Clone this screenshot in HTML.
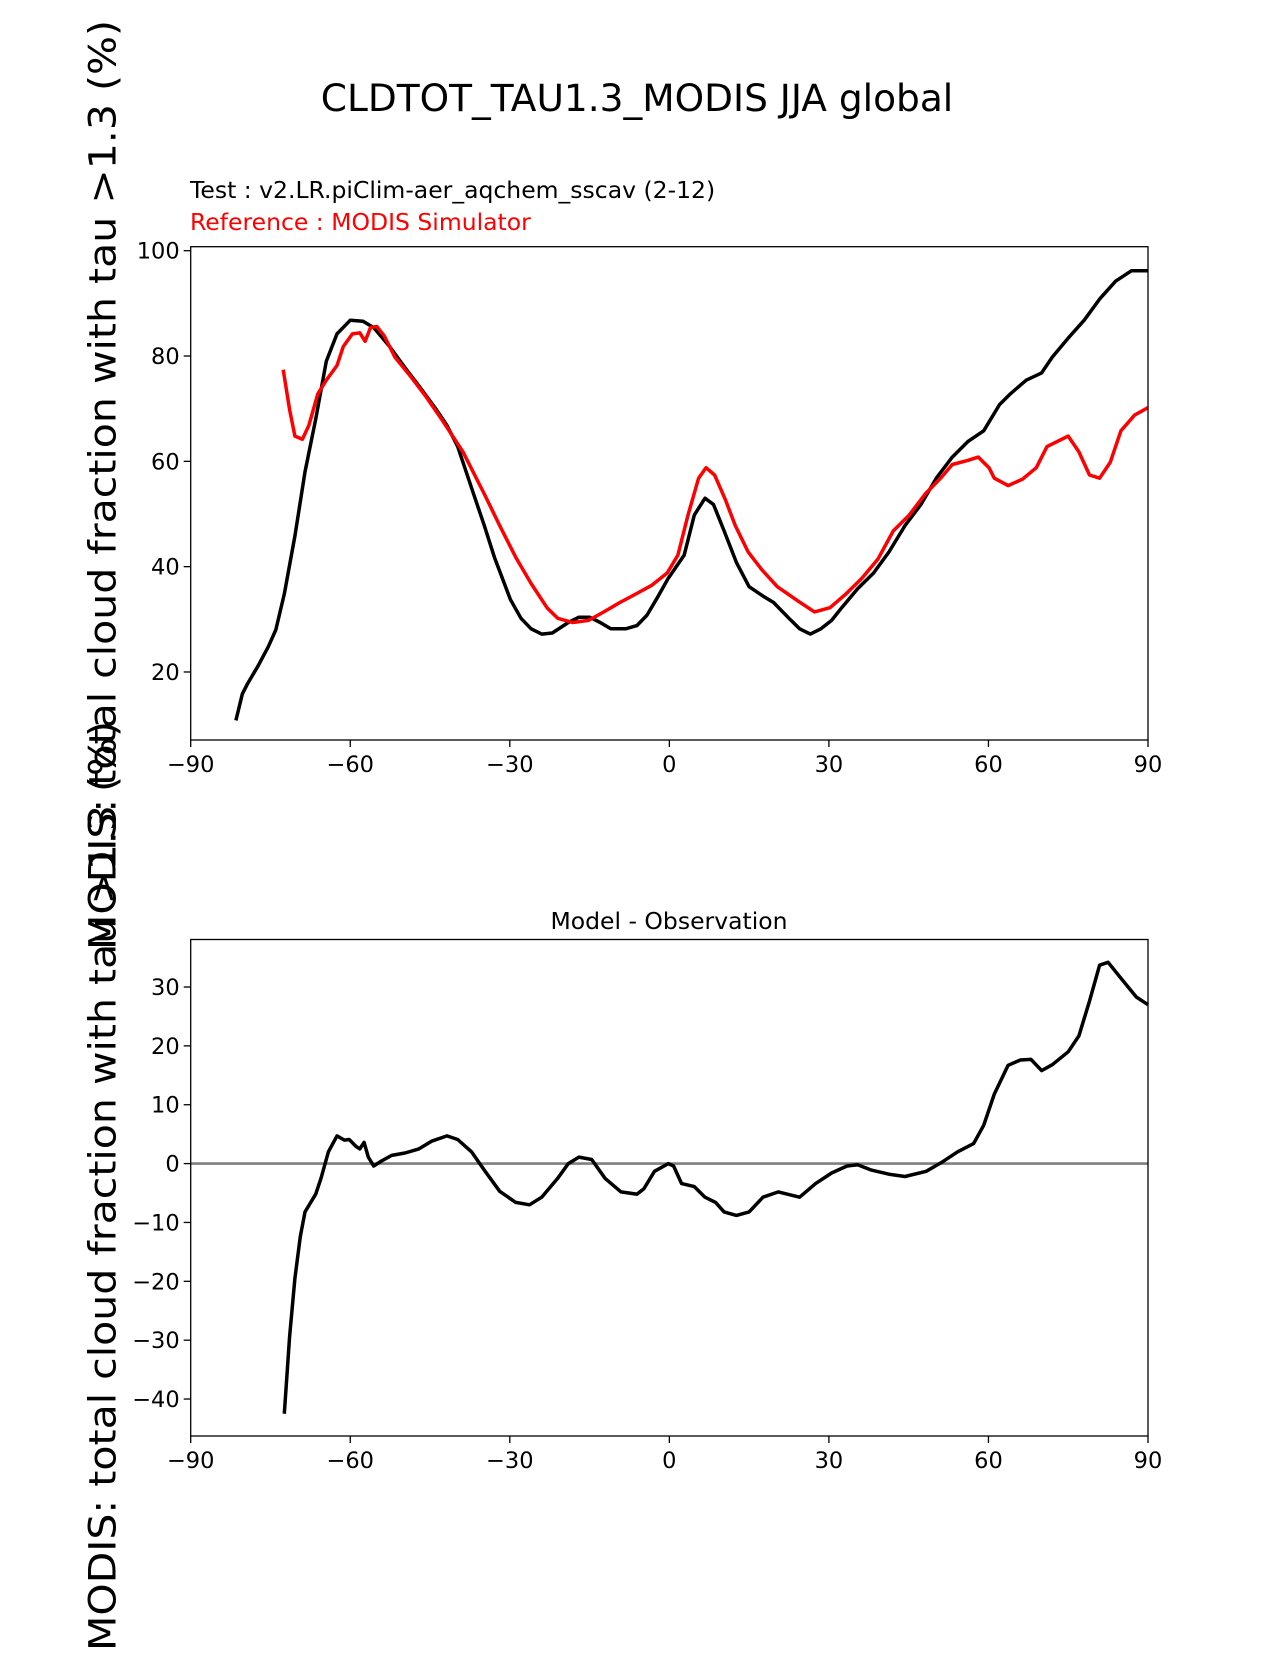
<!DOCTYPE html>
<html><head><meta charset="utf-8"><style>
html,body{margin:0;padding:0;background:#fff}
svg text{font-family:"DejaVu Sans","Liberation Sans",sans-serif}
</style></head><body>
<svg id="fig" width="1275" height="1650" xmlns="http://www.w3.org/2000/svg">
<rect width="1275" height="1650" fill="#fff"/>
<text x="637" y="111" font-size="37.5" text-anchor="middle">CLDTOT_TAU1.3_MODIS JJA global</text>
<text x="190" y="198" font-size="23.5">Test : v2.LR.piClim-aer_aqchem_sscav (2-12)</text>
<text x="190" y="230" font-size="23.5" fill="#ff0000">Reference : MODIS Simulator</text>
<text x="669" y="929" font-size="23.5" text-anchor="middle">Model - Observation</text>
<text transform="translate(103,485) rotate(-90)" font-size="37" text-anchor="middle" dominant-baseline="central" textLength="930" lengthAdjust="spacingAndGlyphs">MODIS: total cloud fraction with tau &gt;1.3 (%)</text>
<text transform="translate(103,1186) rotate(-90)" font-size="37" text-anchor="middle" dominant-baseline="central" textLength="930" lengthAdjust="spacingAndGlyphs">MODIS: total cloud fraction with tau &gt;1.3 (%)</text>
<g id="top"></g>
<g id="bot"></g>
</svg>
<script>
const xTicks=[-90,-60,-30,0,30,60,90];
const topYTicks=[20,40,60,80,100];
const botYTicks=[-40,-30,-20,-10,0,10,20,30];
const testLat=[-81.5,-80.3,-79.3,-77.3,-75.4,-74,-72.4,-70.4,-68.5,-66.5,-64.5,-62.5,-60,-57.6,-55.6,-52.6,-49.7,-46.7,-43.8,-41.8,-39.8,-36.8,-34.8,-32.9,-29.9,-27.9,-26,-24,-22,-19,-17,-15,-13,-11,-8.2,-6.1,-4.2,-2.2,-0.2,2.8,4.7,6.7,8.3,10.3,12.6,15,17.6,19.6,22.5,24.5,26.5,28.5,30.5,32.4,35.4,38.4,41.3,44.3,47.3,50.2,53.2,56.2,59.1,62.1,64.1,67.1,70,72,75,78,80.9,83.9,86.9,90];
const testVal=[10.8,15.8,17.8,21.2,24.8,28,34.8,45.8,58,68,79,84.2,86.8,86.6,85.4,81.8,77.8,73.8,69.8,66.8,62.8,53.8,47.8,41.8,33.8,30.2,28.2,27.2,27.4,29.4,30.4,30.4,29.4,28.2,28.2,28.8,30.8,34.2,37.8,42.2,49.8,53,51.8,46.8,40.8,36.2,34.4,33.2,30.2,28.2,27.2,28.2,29.8,32.2,35.8,38.8,42.8,47.8,51.8,56.8,60.8,63.8,65.8,70.8,72.8,75.4,76.8,79.8,83.4,86.8,90.8,94.2,96.2,96.2];
const refLat=[-72.6,-71.4,-70.4,-69,-67.8,-66.1,-64.5,-62.5,-61.3,-59.6,-58.2,-57.2,-56.2,-55,-53.6,-51.6,-48.7,-45.7,-42.7,-38.8,-34.8,-31.9,-28.9,-26,-23,-21,-18.2,-15.2,-12.3,-9.3,-6.3,-3.4,-0.4,1.6,3.5,5.5,6.9,8.5,10.5,12.4,14.8,17.4,20.3,24.3,27.3,30.2,33.2,36.2,39.2,42.1,45.1,48.1,51,53.2,56.2,58.1,60.1,61.1,63.7,66.4,69,71,73,75,77,79,80.9,82.9,84.9,87.5,90];
const refVal=[77.4,69.8,64.8,64.2,66.8,72.8,75.4,78.2,81.8,84.2,84.4,82.8,85.4,85.6,83.8,79.8,76.2,72.2,67.8,61.8,53.8,47.8,41.8,36.8,32.2,30.2,29.4,29.8,31.4,33.2,34.8,36.4,38.8,42.2,49.8,56.8,58.8,57.4,52.8,47.8,42.8,39.4,36.2,33.4,31.4,32.2,34.8,37.8,41.4,46.8,49.8,53.8,56.8,59.4,60.2,60.8,58.8,56.8,55.4,56.6,58.8,62.8,63.8,64.8,61.8,57.4,56.8,59.8,65.8,68.8,70.2];
const diffLat=[-72.4,-71.4,-70.4,-69.4,-68.5,-66.5,-65.5,-64.1,-62.5,-61.1,-60.2,-58.9,-58.2,-57.4,-56.6,-55.6,-54.2,-52.2,-49.7,-47.1,-44.7,-41.8,-39.8,-37.2,-34.8,-31.9,-28.9,-26.3,-24,-21,-19,-17,-14.6,-12.1,-9.1,-6.1,-4.8,-2.8,-0.2,0.8,2.3,4.7,6.7,8.7,10.3,12.6,15,17.6,20.5,24.5,27.5,30.5,33.4,35.4,38,41.3,44.3,48.3,51.2,54.2,57.2,59.1,61.1,63.7,66,68,70,72,75,77,79,80.9,82.5,84.9,87.8,90];
const diffVal=[-42.5,-29.4,-19.5,-12.4,-8.2,-5.2,-2.5,2,4.7,4,4.1,2.9,2.5,3.6,1.1,-0.4,0.4,1.4,1.8,2.5,3.8,4.7,4.1,2,-1.1,-4.7,-6.6,-7,-5.7,-2.5,0,1.1,0.7,-2.5,-4.8,-5.2,-4.3,-1.3,0,-0.4,-3.4,-3.9,-5.7,-6.6,-8.2,-8.8,-8.2,-5.7,-4.8,-5.7,-3.4,-1.6,-0.4,-0.2,-1.1,-1.8,-2.2,-1.3,0.2,2,3.4,6.5,11.8,16.7,17.6,17.7,15.8,16.8,19,21.7,27.6,33.7,34.2,31.5,28.3,27];

const NS='http://www.w3.org/2000/svg';
const X0=190.7,X1=1148;
const xs=v=>X0+(v+90)/180*(X1-X0);
const yTop=v=>250.7+(100-v)*5.266;
const yBot=v=>1163.6-v*5.886;
function mk(p,tag,attrs){const e=document.createElementNS(NS,tag);for(const k in attrs)e.setAttribute(k,attrs[k]);p.appendChild(e);return e;}
function axes(g,top,bot,yTicks,ys){
  for(const t of xTicks){
    const l=mk(g,'line',{x1:xs(t),x2:xs(t),y1:bot,y2:bot+7,stroke:'#000','stroke-width':1.3});
    
    
    const tx=mk(g,'text',{x:xs(t),y:bot+32,'font-size':22.5,'text-anchor':'middle'});
    tx.textContent=t<0?'\u2212'+(-t):String(t);
    
    
  }
  for(const t of yTicks){
    const y=ys(t);
    const l=mk(g,'line',{x1:X0-7,x2:X0,y1:y,y2:y,stroke:'#000','stroke-width':1.3});
    
    
    const tx=mk(g,'text',{x:X0-11,y:y+8,'font-size':22.5,'text-anchor':'end'});
    tx.textContent=t<0?'\u2212'+(-t):String(t);
    
    
  }
}
function line(g,lat,val,ys,color,name){
  const d=lat.map((a,i)=>(i?'L':'M')+xs(a).toFixed(1)+','+ys(val[i]).toFixed(1)).join('');
  const p=mk(g,'path',{d:d,fill:'none',stroke:color,'stroke-width':3.5,'stroke-linejoin':'round'});
  
  
}
const gt=document.getElementById('top');


axes(gt,246.7,740,topYTicks,yTop);
line(gt,testLat,testVal,yTop,'#000','test-line');
line(gt,refLat,refVal,yTop,'#ff0000','reference-line');
const r1=mk(gt,'rect',{x:X0,y:246.7,width:X1-X0,height:740-246.7,fill:'none',stroke:'#000','stroke-width':1.3});


const gb=document.getElementById('bot');


axes(gb,939.5,1436,botYTicks,yBot);
const z=mk(gb,'line',{x1:X0,x2:X1,y1:yBot(0),y2:yBot(0),stroke:'#808080','stroke-width':2.6});


line(gb,diffLat,diffVal,yBot,'#000','difference-line');
const r2=mk(gb,'rect',{x:X0,y:939.5,width:X1-X0,height:1436-939.5,fill:'none',stroke:'#000','stroke-width':1.3});


</script>
</body></html>
